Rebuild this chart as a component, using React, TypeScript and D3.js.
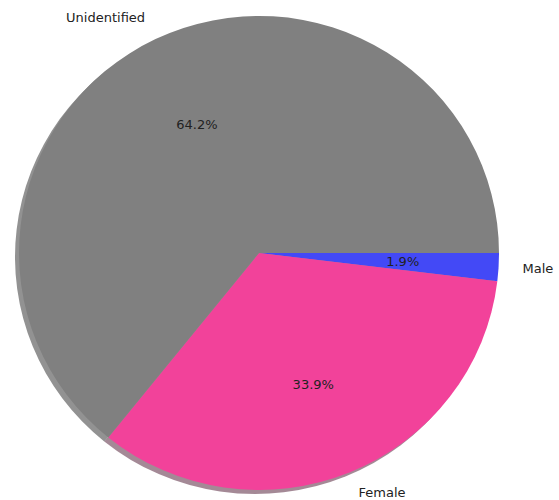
import React from "react";
import * as d3 from "d3";

const labels = ["Male", "Female", "Unidentified"];
const values = [1.9, 33.9, 64.2];
const colors = ["#4349f6", "#f2429a", "#808080"];

const W = 559;
const H = 500;
const cx = 259;
const cy = 253;
const rx = 240;
const ry = 237;

export default function App() {
  const pie = d3
    .pie<number>()
    .sort(null)
    .value((d) => d)
    .startAngle(Math.PI / 2)
    .endAngle(Math.PI / 2 + 2 * Math.PI);
  const arcs = pie(values);
  const arc = d3.arc<d3.PieArcDatum<number>>().innerRadius(0).outerRadius(1);
  const total = d3.sum(values);

  const pos = (a: number, f: number) => {
    return [cx + f * rx * Math.sin(a), cy - f * ry * Math.cos(a)];
  };

  return (
    <svg
      width={W}
      height={H}
      style={{ position: "absolute", left: 0, top: 0, background: "#fff" }}
      fontFamily="DejaVu Sans, sans-serif"
    >
      <g transform={`translate(${cx - 4},${cy + 4}) scale(${rx},${ry})`}>
        {arcs.map((a, i) => {
          const c = d3.rgb(colors[i]);
          const sc = d3.rgb(c.r * 0.3, c.g * 0.3, c.b * 0.3);
          return <path key={"s" + i} d={arc(a) || ""} fill={sc.toString()} opacity={0.5} />;
        })}
      </g>
      <g transform={`translate(${cx},${cy}) scale(${rx},${ry})`}>
        {arcs.map((a, i) => (
          <path key={"p" + i} d={arc(a) || ""} fill={colors[i]} />
        ))}
      </g>
      {arcs.map((a, i) => {
        const mid = (a.startAngle + a.endAngle) / 2;
        const [lx, ly0] = pos(mid, 1.1);
        const ly = Math.min(ly0, H - 8);
        const [px, py] = pos(mid, 0.6);
        const anchor = Math.sin(mid) >= 0 ? "start" : "end";
        return (
          <g key={"t" + i}>
            <text x={lx} y={ly} textAnchor={anchor} dominantBaseline="central" fontSize={13} fill="#222">
              {labels[i]}
            </text>
            <text x={px} y={py} textAnchor="middle" dominantBaseline="central" fontSize={13} fill="#222">
              {((values[i] / total) * 100).toFixed(1)}%
            </text>
          </g>
        );
      })}
    </svg>
  );
}
